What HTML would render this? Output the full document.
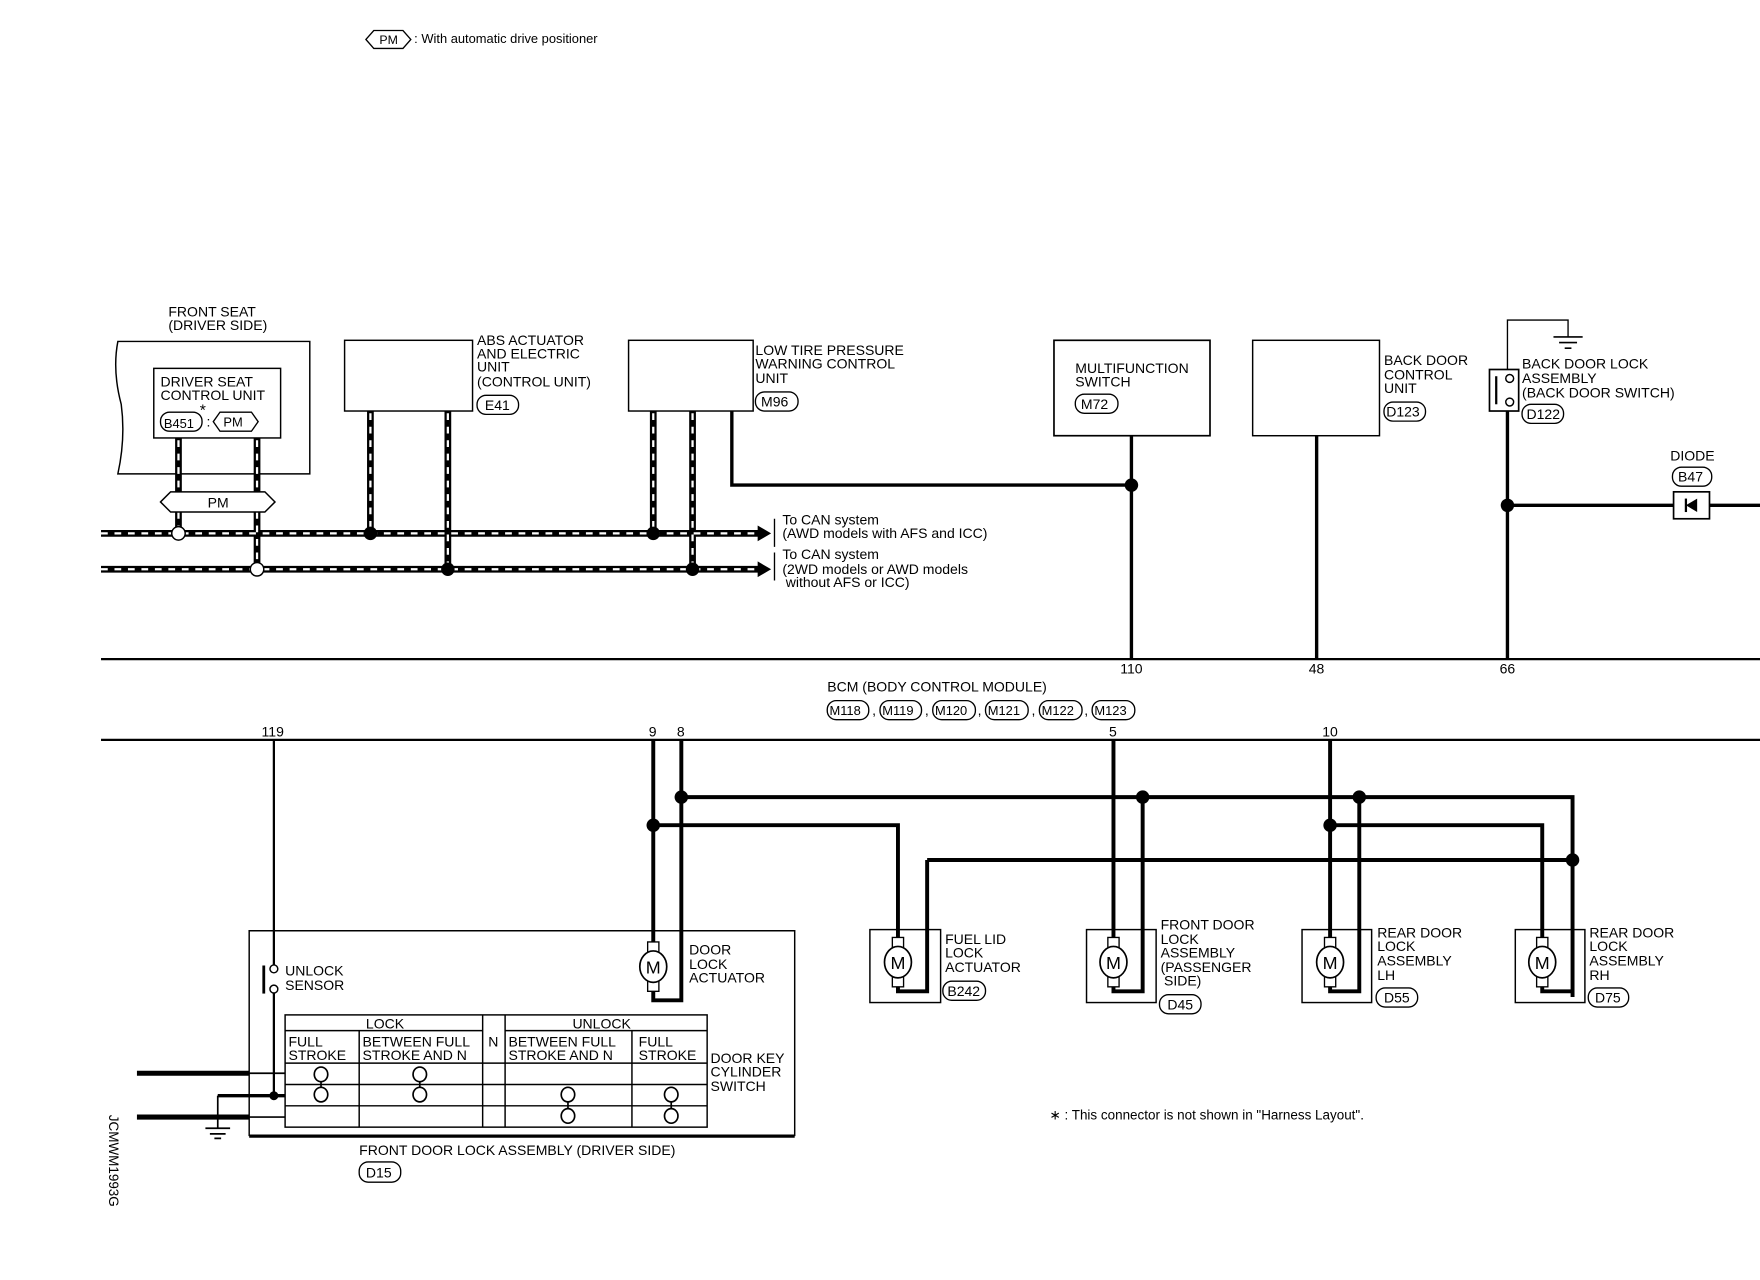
<!DOCTYPE html>
<html><head><meta charset="utf-8"><style>
html,body{margin:0;padding:0;background:#fff;}
svg{display:block;}
text{font-family:"Liberation Sans",sans-serif;font-size:12.5px;fill:#000;}
</style></head><body>
<svg width="1760" height="1280" viewBox="0 0 1568 1140" xmlns="http://www.w3.org/2000/svg">
<defs>
<g id="mot">
<rect x="-5" y="-22" width="10" height="10" fill="#fff" stroke="#000" stroke-width="1.2"/>
<rect x="-5" y="12" width="10" height="10" fill="#fff" stroke="#000" stroke-width="1.2"/>
<ellipse cx="0" cy="0" rx="12" ry="14" fill="#fff" stroke="#000" stroke-width="1.5"/>
<text x="0" y="6" text-anchor="middle" style="font-size:16px">M</text>
</g>
</defs>
<g fill="none" stroke="#000">
<!-- header -->
<path d="M326,35 L333,27 L359,27 L366,35 L359,43 L333,43 Z" stroke-width="1.2"/>
<!-- front seat -->
<path d="M276,304 L105,304 Q100,330 108,360 Q112,390 105,422 L276,422 Z" stroke-width="1.3"/>
<rect x="137" y="328" width="113" height="62" stroke-width="1.3"/>
<rect x="143" y="367" width="37" height="17" rx="8" stroke-width="1.2"/>
<path d="M190,375.5 L196,367 L224,367 L230,375.5 L224,384 L196,384 Z" stroke-width="1.2"/>
<!-- boxes -->
<rect x="307" y="303" width="114" height="63" stroke-width="1.3"/>
<rect x="560" y="303" width="111" height="63" stroke-width="1.3"/>
<rect x="939" y="303" width="139" height="85" stroke-width="1.5"/>
<rect x="1116" y="303" width="113" height="85" stroke-width="1.3"/>
<rect x="425" y="352" width="37" height="17" rx="8" stroke-width="1.2"/>
<rect x="673" y="349" width="38" height="17" rx="8" stroke-width="1.2"/>
<rect x="958" y="351" width="38" height="17" rx="8" stroke-width="1.2"/>
<rect x="1233" y="358" width="37" height="17" rx="8" stroke-width="1.2"/>
<rect x="1356" y="360" width="37" height="17" rx="8" stroke-width="1.2"/>
<rect x="1490" y="416" width="35" height="17" rx="8" stroke-width="1.2"/>
<!-- CAN dashed -->
<g stroke-width="6">
<path d="M90,475 H677 M90,507 H677"/>
<path d="M159,390 V475 M229,390 V507 M330,366 V475 M399,366 V507 M582,366 V475 M617,366 V507"/>
</g>
<g stroke="#fff" stroke-width="2" stroke-dasharray="6 6">
<path d="M90,475 H677 M90,507 H677"/>
<path d="M159,392 V438 M229,392 V438 M330,368 V475 M399,368 V507 M582,368 V475 M617,368 V507 M159,456 V475 M229,456 V507"/>
</g>
<path d="M143,447 L152,438 L236,438 L245,447 L236,456 L152,456 Z" fill="#fff" stroke-width="1.3"/>
<path d="M690,462 v25 M690,492 v25" stroke-width="1.2"/>
<!-- lines -->
<path d="M652,366 V432 H1008" stroke-width="3"/>
<path d="M1008,388 V587 M1173,388 V587 M1343,366 V587 M1343,450 H1568" stroke-width="3"/>
<path d="M1343,329 V285 H1397 V300" stroke-width="1.2"/>
<path d="M1384,300 H1410 M1389,305 H1405 M1394,310 H1400" stroke-width="1.5"/>
<rect x="1327" y="329" width="26" height="37" stroke-width="1.5"/>
<path d="M1333,335 V360" stroke-width="2"/>
<rect x="1491" y="438" width="32" height="24" fill="#fff" stroke-width="1.5"/>
<path d="M90,587 H1568 M90,659 H1568" stroke-width="2"/>
<!-- lower wiring -->
<path d="M244,659 V863 M244,881 V976" stroke-width="2"/>
<g stroke-width="3.5">
<path d="M582,659 V840 M607,659 V891 H582 V882"/>
<path d="M607,710 H1401 V888 M582,735 H800 V836 M826,766 H1401 M826,766 V883 H800 V878"/>
<path d="M992,659 V836 M1018,710 V883 H992 V878"/>
<path d="M1185,659 V836 M1185,735 H1374 V836 M1374,878 V883 H1401 M1211,710 V883 H1185 V878"/>
</g>
<rect x="775" y="828" width="63" height="65" stroke-width="1.3"/>
<rect x="968" y="828" width="62" height="65" stroke-width="1.3"/>
<rect x="1160" y="828" width="62" height="65" stroke-width="1.3"/>
<rect x="1350" y="828" width="62" height="65" stroke-width="1.3"/>
<rect x="840" y="874" width="38" height="17" rx="8" stroke-width="1.2"/>
<rect x="1033" y="886" width="37" height="17" rx="8" stroke-width="1.2"/>
<rect x="1226" y="880" width="37" height="17" rx="8" stroke-width="1.2"/>
<rect x="1415" y="880" width="36" height="17" rx="8" stroke-width="1.2"/>
<!-- driver box -->
<path d="M222,1012 V829 H708 V1012" stroke-width="1.3"/>
<path d="M222,1012 H708" stroke-width="3"/>
<path d="M235,860 V885" stroke-width="2.5"/>
<path d="M122,956 H222 M122,995 H222" stroke-width="4.5"/>
<path d="M222,956 H254 M222,995 H254 M194,976 H254 M194,976 V1005" stroke-width="1.5"/>
<path d="M194,976 H254" stroke-width="3"/>
<path d="M183,1005 H205 M187,1010 H201 M191,1014 H197" stroke-width="1.5"/>
<!-- table -->
<g stroke-width="1.3">
<rect x="254" y="904" width="376" height="100"/>
<path d="M254,918 H430 M450,918 H630 M254,947 H630 M254,966 H630 M254,985 H630"/>
<path d="M320,918 V1004 M430,904 V1004 M450,904 V1004 M563,918 V1004"/>
</g>
<g stroke-width="1.5">
<ellipse cx="286" cy="957" rx="6" ry="6.5"/><ellipse cx="286" cy="975" rx="6" ry="6.5"/>
<ellipse cx="374" cy="957" rx="6" ry="6.5"/><ellipse cx="374" cy="975" rx="6" ry="6.5"/>
<ellipse cx="506" cy="975" rx="6" ry="6.5"/><ellipse cx="506" cy="994" rx="6" ry="6.5"/>
<ellipse cx="598" cy="975" rx="6" ry="6.5"/><ellipse cx="598" cy="994" rx="6" ry="6.5"/>
<path d="M286,963 V969 M374,963 V969 M506,981 V988 M598,981 V988"/>
</g>
<rect x="320" y="1035" width="37" height="18" rx="8" stroke-width="1.2"/>
<!-- BCM connectors -->
<g stroke-width="1.2">
<rect x="737" y="624" width="37" height="17" rx="8"/><rect x="784" y="624" width="37" height="17" rx="8"/>
<rect x="831" y="624" width="38" height="17" rx="8"/><rect x="878" y="624" width="38" height="17" rx="8"/>
<rect x="926" y="624" width="38" height="17" rx="8"/><rect x="973" y="624" width="38" height="17" rx="8"/>
</g>
</g>
<!-- filled -->
<g fill="#000">
<path d="M675,468 L687,475 L675,482 Z M675,500 L687,507 L675,514 Z"/>
<circle cx="330" cy="475" r="6"/><circle cx="582" cy="475" r="6"/>
<circle cx="399" cy="507" r="6"/><circle cx="617" cy="507" r="6"/>
<circle cx="1008" cy="432" r="6"/><circle cx="1343" cy="450" r="6"/>
<circle cx="607" cy="710" r="6"/><circle cx="1018" cy="710" r="6"/><circle cx="1211" cy="710" r="6"/>
<circle cx="582" cy="735" r="6"/><circle cx="1185" cy="735" r="6"/><circle cx="1401" cy="766" r="6"/>
<circle cx="244" cy="976" r="4"/>
<path d="M1502,450 L1512,444 L1512,456 Z"/><rect x="1501" y="444" width="2" height="12"/>
</g>
<g fill="#fff" stroke="#000" stroke-width="1.3">
<circle cx="159" cy="475" r="6"/><circle cx="229" cy="507" r="6"/>
<circle cx="1345" cy="337" r="3.5"/><circle cx="1345" cy="358" r="3.5"/>
<circle cx="244" cy="863" r="3.5"/><circle cx="244" cy="881" r="3.5"/>
</g>
<use href="#mot" x="582" y="861"/>
<use href="#mot" x="800" y="857"/>
<use href="#mot" x="992" y="857"/>
<use href="#mot" x="1185" y="857"/>
<use href="#mot" x="1374" y="857"/>
<!-- text -->
<text x="338" y="39" style="font-size:11px">PM</text>
<text x="369" y="38" style="font-size:11.5px">: With automatic drive positioner</text>
<text x="150" y="282">FRONT SEAT</text><text x="150" y="294">(DRIVER SIDE)</text>
<text x="143" y="344">DRIVER SEAT</text><text x="143" y="356">CONTROL UNIT</text>
<text x="146" y="381" style="font-size:11.5px">B451</text><text x="178" y="370" style="font-size:14px">*</text><text x="184" y="380">:</text>
<text x="199" y="380" style="font-size:11.5px">PM</text>
<text x="185" y="452">PM</text>
<text x="425" y="307">ABS ACTUATOR</text><text x="425" y="319">AND ELECTRIC</text><text x="425" y="331">UNIT</text><text x="425" y="344">(CONTROL UNIT)</text>
<text x="432" y="365">E41</text>
<text x="673" y="316">LOW TIRE PRESSURE</text><text x="673" y="328">WARNING CONTROL</text><text x="673" y="341">UNIT</text>
<text x="678" y="362">M96</text>
<text x="697" y="467">To CAN system</text><text x="697" y="479">(AWD models with AFS and ICC)</text>
<text x="697" y="498">To CAN system</text><text x="697" y="511">(2WD models or AWD models</text><text x="700" y="523">without AFS or ICC)</text>
<text x="958" y="332">MULTIFUNCTION</text><text x="958" y="344">SWITCH</text><text x="963" y="364">M72</text>
<text x="1233" y="325">BACK DOOR</text><text x="1233" y="338">CONTROL</text><text x="1233" y="350">UNIT</text><text x="1235" y="371">D123</text>
<text x="1356" y="328">BACK DOOR LOCK</text><text x="1356" y="341">ASSEMBLY</text><text x="1356" y="354">(BACK DOOR SWITCH)</text>
<text x="1360" y="373">D122</text>
<text x="1488" y="410">DIODE</text><text x="1495" y="429">B47</text>
<text x="998" y="600">110</text><text x="1166" y="600">48</text><text x="1336" y="600">66</text>
<text x="737" y="616">BCM (BODY CONTROL MODULE)</text>
<text x="739" y="637" style="font-size:11.5px">M118</text><text x="777" y="637">,</text>
<text x="786" y="637" style="font-size:11.5px">M119</text><text x="824" y="637">,</text>
<text x="833" y="637" style="font-size:11.5px">M120</text><text x="871" y="637">,</text>
<text x="880" y="637" style="font-size:11.5px">M121</text><text x="919" y="637">,</text>
<text x="928" y="637" style="font-size:11.5px">M122</text><text x="966" y="637">,</text>
<text x="975" y="637" style="font-size:11.5px">M123</text>
<text x="233" y="656">119</text><text x="578" y="656">9</text><text x="603" y="656">8</text>
<text x="988" y="656">5</text><text x="1178" y="656">10</text>
<text x="842" y="841">FUEL LID</text><text x="842" y="853">LOCK</text><text x="842" y="866">ACTUATOR</text><text x="844" y="887">B242</text>
<text x="1034" y="828">FRONT DOOR</text><text x="1034" y="841">LOCK</text><text x="1034" y="853">ASSEMBLY</text><text x="1034" y="866">(PASSENGER</text><text x="1037" y="878">SIDE)</text><text x="1040" y="899">D45</text>
<text x="1227" y="835">REAR DOOR</text><text x="1227" y="847">LOCK</text><text x="1227" y="860">ASSEMBLY</text><text x="1227" y="873">LH</text><text x="1233" y="893">D55</text>
<text x="1416" y="835">REAR DOOR</text><text x="1416" y="847">LOCK</text><text x="1416" y="860">ASSEMBLY</text><text x="1416" y="873">RH</text><text x="1421" y="893">D75</text>
<text x="614" y="850">DOOR</text><text x="614" y="863">LOCK</text><text x="614" y="875">ACTUATOR</text>
<text x="254" y="869">UNLOCK</text><text x="254" y="882">SENSOR</text>
<text x="326" y="916">LOCK</text><text x="510" y="916">UNLOCK</text><text x="435" y="932">N</text>
<text x="257" y="932">FULL</text><text x="257" y="944">STROKE</text>
<text x="323" y="932">BETWEEN FULL</text><text x="323" y="944">STROKE AND N</text>
<text x="453" y="932">BETWEEN FULL</text><text x="453" y="944">STROKE AND N</text>
<text x="569" y="932">FULL</text><text x="569" y="944">STROKE</text>
<text x="633" y="947">DOOR KEY</text><text x="633" y="959">CYLINDER</text><text x="633" y="972">SWITCH</text>
<text x="320" y="1029">FRONT DOOR LOCK ASSEMBLY (DRIVER SIDE)</text>
<text x="326" y="1049">D15</text>
<text x="935" y="997" style="font-size:12px">∗ : This connector is not shown in "Harness Layout".</text>
<text x="0" y="0" transform="translate(97,993) rotate(90)" style="font-size:12px">JCMWM1993G</text>
</svg>
</body></html>
